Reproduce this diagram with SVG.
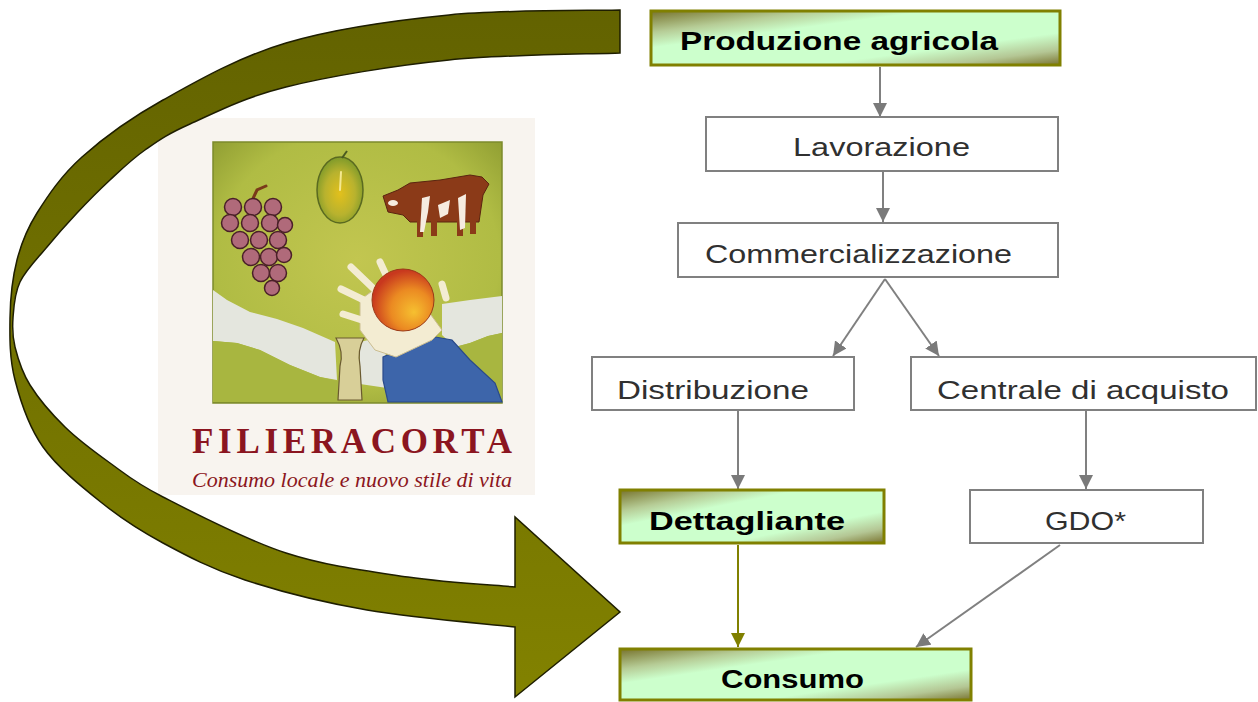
<svg xmlns="http://www.w3.org/2000/svg" width="1258" height="702" viewBox="0 0 1258 702">
  <defs>
    <linearGradient id="boxFill" x1="0" y1="0" x2="1" y2="1">
      <stop offset="0" stop-color="#77722c"/>
      <stop offset="0.2" stop-color="#b6cc96"/>
      <stop offset="0.34" stop-color="#ccffcc"/>
      <stop offset="0.7" stop-color="#ccffcc"/>
      <stop offset="0.86" stop-color="#b4c694"/>
      <stop offset="1" stop-color="#7a7430"/>
    </linearGradient>
    <linearGradient id="bigArrowFill" gradientUnits="userSpaceOnUse" x1="0" y1="0" x2="0" y2="700">
      <stop offset="0" stop-color="#626200"/>
      <stop offset="0.5" stop-color="#727200"/>
      <stop offset="1" stop-color="#828200"/>
    </linearGradient>
    <radialGradient id="appleFill" cx="0.6" cy="0.62" r="0.6" fx="0.68" fy="0.7">
      <stop offset="0" stop-color="#f6c030"/>
      <stop offset="0.55" stop-color="#eb8a22"/>
      <stop offset="1" stop-color="#c8381e"/>
    </radialGradient>
    <radialGradient id="pearFill" cx="0.5" cy="0.55" r="0.55">
      <stop offset="0" stop-color="#e2c01c"/>
      <stop offset="0.6" stop-color="#b8b22e"/>
      <stop offset="1" stop-color="#7e9a2a"/>
    </radialGradient>
    <radialGradient id="canopyFill" cx="0.5" cy="0.45" r="0.7">
      <stop offset="0" stop-color="#c2c650"/>
      <stop offset="0.7" stop-color="#b0bc44"/>
      <stop offset="1" stop-color="#8c9a30"/>
    </radialGradient>
    <marker id="headGray" viewBox="0 0 14 14" refX="14" refY="7" markerWidth="14" markerHeight="14" markerUnits="userSpaceOnUse" orient="auto">
      <path d="M0,0 L14,7 L0,14 Z" fill="#7a7a7a"/>
    </marker>
    <marker id="headOlive" viewBox="0 0 14 14" refX="14" refY="7" markerWidth="14" markerHeight="14" markerUnits="userSpaceOnUse" orient="auto">
      <path d="M0,0 L14,7 L0,14 Z" fill="#808000"/>
    </marker>
  </defs>
  <style>
    .box-plain { fill: #ffffff; stroke: #808080; stroke-width: 2; }
    .box-key { fill: url(#boxFill); stroke: #808000; stroke-width: 3; }
    .lbl { font-family: "Liberation Sans", Arial, sans-serif; font-size: 26px; fill: #303030; }
    .lbl-key { font-family: "Liberation Sans", Arial, sans-serif; font-size: 25px; font-weight: bold; fill: #000000; }
    .conn { fill: none; stroke: #808080; stroke-width: 2; marker-end: url(#headGray); }
    .conn-key { fill: none; stroke: #808000; stroke-width: 2; marker-end: url(#headOlive); }
    .grape { fill: #b06a7a; stroke: #4a2028; stroke-width: 1.5; }
    .finger { stroke: #f3ecd2; stroke-width: 7; stroke-linecap: round; }
    .logo-title { font-family: "Liberation Serif", "Times New Roman", serif; fill: #8b1520; }
  </style>

  <rect width="1258" height="702" fill="#ffffff"/>

  <!-- Filiera corta logo -->
  <g id="logo">
    <rect x="158" y="118" width="377" height="377" fill="#f8f4ef"/>
    <rect x="213" y="142" width="289" height="261" fill="url(#canopyFill)" stroke="#7c8a2c" stroke-width="1.5"/>
    <!-- sky between canopy and hills -->
    <path d="M213,290 L227,300 L250,312 L277,319 L303,328 L335,342 L337,380 L320,377 L290,365 L260,350 L237,343 L213,341 Z" fill="#e4e6de"/>
    <path d="M360,342 L385,336 L387,388 L360,384 Z" fill="#e4e6de"/>
    <path d="M442,304 L470,300 L502,296 L502,333 L488,336 L470,343 L455,347 L442,335 Z" fill="#e4e6de"/>
    <!-- hills -->
    <path d="M213,341 L237,343 L260,350 L290,365 L320,377 L338,381 L338,402 L213,402 Z" fill="#a8b640"/>
    <path d="M455,347 L470,343 L488,336 L502,333 L502,402 L470,402 Z" fill="#a8b640"/>
    <!-- trunk -->
    <path d="M336,338 Q344,352 340,366 L338,400 L362,400 L360,366 Q357,350 364,338 Z" fill="#d8cf98" stroke="#6a5a30" stroke-width="1.2"/>
    <!-- sleeve -->
    <path d="M383,357 L430,336 L452,340 L470,360 L495,383 L502,402 L388,402 L383,380 Z" fill="#3d65aa" stroke="#2a4a8a" stroke-width="1.2"/>
    <!-- hand -->
    <path d="M360,300 L383,283 L420,300 L442,330 L432,340 L396,357 L375,350 L360,330 Z" fill="#f3ecd2" stroke="#cbbd90" stroke-width="1"/>
    <line class="finger" x1="351" y1="267" x2="375" y2="290"/>
    <line class="finger" x1="341" y1="289" x2="370" y2="303"/>
    <line class="finger" x1="343" y1="314" x2="368" y2="322"/>
    <line class="finger" x1="380" y1="262" x2="386" y2="275"/>
    <line class="finger" x1="442" y1="284" x2="446" y2="298"/>
    <!-- apple -->
    <circle cx="403" cy="300" r="31" fill="url(#appleFill)" stroke="#9a3a18" stroke-width="1"/>
    <!-- grapes -->
    <path d="M250,205 L257,190 L266,186" fill="none" stroke="#7a3a1a" stroke-width="3" stroke-linecap="round"/>
    <circle class="grape" cx="233" cy="207" r="8.5"/>
    <circle class="grape" cx="253" cy="207" r="8.5"/>
    <circle class="grape" cx="273" cy="207" r="8.5"/>
    <circle class="grape" cx="230" cy="223" r="8.5"/>
    <circle class="grape" cx="250" cy="223" r="8.5"/>
    <circle class="grape" cx="270" cy="223" r="8.5"/>
    <circle class="grape" cx="285" cy="225" r="7.5"/>
    <circle class="grape" cx="240" cy="240" r="8.5"/>
    <circle class="grape" cx="259" cy="240" r="8.5"/>
    <circle class="grape" cx="278" cy="240" r="8.5"/>
    <circle class="grape" cx="251" cy="257" r="8.5"/>
    <circle class="grape" cx="269" cy="257" r="8.5"/>
    <circle class="grape" cx="284" cy="255" r="7.5"/>
    <circle class="grape" cx="261" cy="273" r="8.5"/>
    <circle class="grape" cx="278" cy="273" r="8.5"/>
    <circle class="grape" cx="272" cy="288" r="7.5"/>
    <!-- pear -->
    <ellipse cx="340" cy="190" rx="23" ry="33" fill="url(#pearFill)" stroke="#5a6a20" stroke-width="1.5"/>
    <path d="M341,172 L340,190" stroke="#f4e890" stroke-width="2" stroke-linecap="round"/>
    <path d="M342,158 L347,151" stroke="#4a5a20" stroke-width="2"/>
    <!-- cow -->
    <path d="M383,196 L398,190 L410,183 L440,180 L470,175 L482,177 L489,184 L483,195 L479,222 L410,222 L403,215 L388,212 Z" fill="#8b3a18" stroke="#5a2410" stroke-width="1"/>
    <rect x="417" y="216" width="6" height="21" fill="#8b3a18"/>
    <rect x="431" y="216" width="6" height="20" fill="#8b3a18"/>
    <rect x="457" y="216" width="6" height="20" fill="#8b3a18"/>
    <rect x="470" y="216" width="6" height="18" fill="#8b3a18"/>
    <path d="M422,198 L430,196 L428,212 L424,232 L420,232 Z" fill="#f6ece0"/>
    <path d="M438,205 L450,200 L448,214 L440,218 Z" fill="#f6ece0"/>
    <path d="M458,198 L466,194 L465,228 L460,230 Z" fill="#f6ece0"/>
    <ellipse cx="393" cy="203" rx="5" ry="3" fill="#f6ece0"/>
    <!-- logo lettering -->
    <text class="logo-title" x="192" y="453" font-size="35" font-weight="bold" textLength="320" lengthAdjust="spacing">FILIERACORTA</text>
    <text class="logo-title" x="192" y="487" font-size="20" font-style="italic" textLength="320" lengthAdjust="spacingAndGlyphs">Consumo locale e nuovo stile di vita</text>
  </g>

  <!-- big return arrow from production back to consumption -->
  <g id="return-arrow">
    <path d="M620,10
      C591.5,10.8 504.7,9.5 449,15
      C393.3,20.5 333.7,28.8 286,43
      C238.3,57.2 197,81 163,100
      C129,119 103,138.2 82,157
      C61,175.8 47.8,195.8 37,213
      C26.2,230.2 21.5,242.5 17,260
      C12.5,277.5 10.3,298 10,318
      C9.7,338 9.5,358.5 15,380
      C20.5,401.5 28.5,426.5 43,447
      C57.5,467.5 82,487 102,503
      C122,519 139.2,530.2 163,543
      C186.8,555.8 211,568.8 245,580
      C279,591.2 322,602.2 367,610
      C412,617.8 490.3,624.2 515,627
      L515,697 L620,612 L515,517 L515,587
      C497.2,585.3 446.2,582.7 408,577
      C369.8,571.3 326.8,566.3 286,553
      C245.2,539.7 192.3,512 163,497
      C133.7,482 126.3,474.7 110,463
      C93.7,451.3 78.3,440 65,427
      C51.7,414 38.3,398.3 30,385
      C21.7,371.7 17.8,358.2 15,347
      C12.2,335.8 12.2,328.8 13,318
      C13.8,307.2 14.3,293.8 20,282
      C25.7,270.2 37.5,258.5 47,247
      C56.5,235.5 66.5,224.2 77,213
      C87.5,201.8 98.7,190.5 110,180
      C121.3,169.5 131.7,159.3 145,150
      C158.3,140.7 166.5,134.5 190,124
      C213.5,113.5 242.8,97.7 286,87
      C329.2,76.3 393.3,65.7 449,60
      C504.7,54.3 591.5,54.2 620,53 Z"
      fill="url(#bigArrowFill)" stroke="#1e1e00" stroke-width="1.5" stroke-linejoin="miter"/>
  </g>

  <!-- connectors -->
  <g id="connectors">
    <line class="conn" x1="880" y1="67" x2="880" y2="117"/>
    <line class="conn" x1="883" y1="172" x2="883" y2="222"/>
    <line class="conn" x1="885" y1="279" x2="833" y2="356"/>
    <line class="conn" x1="885" y1="279" x2="939" y2="356"/>
    <line class="conn" x1="738" y1="411" x2="738" y2="489"/>
    <line class="conn" x1="1086" y1="411" x2="1086" y2="489"/>
    <line class="conn-key" x1="738" y1="545" x2="738" y2="647"/>
    <line class="conn" x1="1060" y1="545" x2="916" y2="647"/>
  </g>

  <!-- nodes -->
  <g id="node-produzione">
    <rect class="box-key" x="651" y="11" width="409" height="54"/>
    <text class="lbl-key" x="680" y="50" font-size="26" textLength="318" lengthAdjust="spacingAndGlyphs">Produzione agricola</text>
  </g>
  <g id="node-lavorazione">
    <rect class="box-plain" x="706" y="117" width="352" height="54"/>
    <text class="lbl" x="793" y="156" textLength="177" lengthAdjust="spacingAndGlyphs">Lavorazione</text>
  </g>
  <g id="node-commercializzazione">
    <rect class="box-plain" x="678" y="223" width="380" height="54"/>
    <text class="lbl" x="705" y="263" textLength="307" lengthAdjust="spacingAndGlyphs">Commercializzazione</text>
  </g>
  <g id="node-distribuzione">
    <rect class="box-plain" x="592" y="357" width="262" height="53"/>
    <text class="lbl" x="617" y="399" textLength="192" lengthAdjust="spacingAndGlyphs">Distribuzione</text>
  </g>
  <g id="node-centrale">
    <rect class="box-plain" x="911" y="357" width="345" height="53"/>
    <text class="lbl" x="937" y="399" textLength="292" lengthAdjust="spacingAndGlyphs">Centrale di acquisto</text>
  </g>
  <g id="node-dettagliante">
    <rect class="box-key" x="620" y="490" width="264" height="53"/>
    <text class="lbl-key" x="649" y="530" textLength="196" lengthAdjust="spacingAndGlyphs">Dettagliante</text>
  </g>
  <g id="node-gdo">
    <rect class="box-plain" x="970" y="490" width="233" height="53"/>
    <text class="lbl" x="1045" y="530" textLength="81" lengthAdjust="spacingAndGlyphs">GDO*</text>
  </g>
  <g id="node-consumo">
    <rect class="box-key" x="620" y="649" width="351" height="51"/>
    <text class="lbl-key" x="721" y="688" textLength="143" lengthAdjust="spacingAndGlyphs">Consumo</text>
  </g>
</svg>
